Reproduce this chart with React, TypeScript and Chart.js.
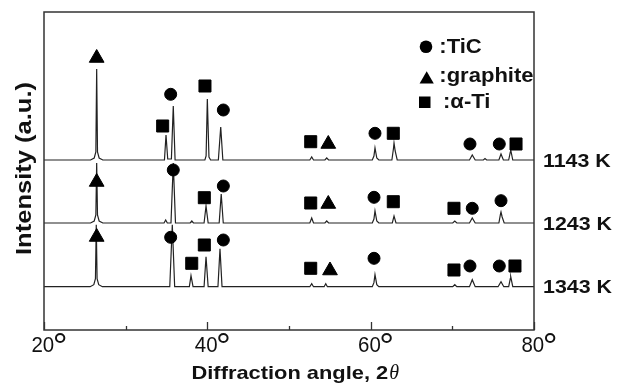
import React, { useEffect, useRef } from 'react';
import { Chart, registerables } from 'chart.js';

Chart.register(...registerables);

// ---------- data ----------
const xTicks = [20, 30, 40, 50, 60, 70, 80];
const xTickLabels = ['20', '', '40', '', '60', '', '80'];
const sampleLabels = ['1143 K', '1243 K', '1343 K'];
const traceOffsets = [170, 107, 43.3];
const legendLabels = [':TiC', ':graphite', ':\u03b1-Ti'];

// [2θ, intensity above the pattern's own baseline]
const trace1143: [number, number][] = [
  [20, 0], [25.7, 0], [26.15, 2], [26.35, 8], [26.45, 91], [26.55, 8], [26.75, 2], [27.2, 0],
  [34.75, 0], [34.94, 25], [35.15, 1], [35.6, 1], [35.83, 54], [36.05, 0],
  [39.7, 0], [39.85, 4], [40.0, 61], [40.2, 3], [40.4, 0],
  [41.35, 0], [41.64, 33], [41.9, 0],
  [52.55, 0], [52.78, 3], [53.0, 0],
  [54.4, 0], [54.62, 2], [54.85, 0],
  [60.2, 0], [60.4, 4], [60.53, 12], [60.75, 2], [61.0, 0],
  [62.6, 0], [62.8, 12], [62.86, 17], [63.0, 9], [63.25, 0],
  [72.1, 0], [72.44, 5], [72.8, 0],
  [73.8, 0], [74.0, 1.5], [74.2, 0],
  [75.7, 0], [75.96, 6], [76.25, 0],
  [76.9, 0], [77.1, 8], [77.15, 10], [77.4, 0],
  [80, 0],
];

const trace1243: [number, number][] = [
  [20, 0], [25.7, 0], [26.15, 2], [26.35, 8], [26.45, 60], [26.55, 8], [26.75, 2], [27.2, 0],
  [34.7, 0], [34.9, 3], [35.1, 0],
  [35.55, 0], [35.83, 60], [36.1, 0],
  [37.9, 0], [38.1, 2], [38.3, 0],
  [39.6, 0], [39.84, 17], [40.1, 0],
  [41.45, 0], [41.7, 29], [41.95, 0],
  [52.55, 0], [52.78, 5], [53.0, 0],
  [54.4, 0], [54.62, 2], [54.85, 0],
  [60.2, 0], [60.4, 4], [60.53, 12], [60.75, 2], [61.0, 0],
  [62.65, 0], [62.86, 7], [63.1, 0],
  [70.05, 0], [70.3, 2], [70.55, 0],
  [72.1, 0], [72.44, 5], [72.8, 0],
  [75.7, 0], [75.9, 9], [75.96, 11], [76.1, 6], [76.35, 0],
  [80, 0],
];

const trace1343: [number, number][] = [
  [20, 0], [25.65, 0], [26.1, 2], [26.3, 8], [26.4, 62], [26.5, 8], [26.7, 2], [27.15, 0],
  [35.4, 0], [35.71, 62], [36.0, 0],
  [37.8, 0], [38.0, 11], [38.25, 0],
  [39.6, 0], [39.84, 30], [40.1, 0],
  [41.3, 0], [41.55, 38], [41.8, 0],
  [52.55, 0], [52.78, 3], [53.0, 0],
  [54.3, 0], [54.5, 3], [54.7, 0],
  [60.2, 0], [60.4, 4], [60.53, 12], [60.75, 2], [61.0, 0],
  [70.05, 0], [70.3, 2], [70.55, 0],
  [72.1, 0], [72.44, 7], [72.8, 0],
  [75.6, 0], [75.96, 5], [76.3, 0],
  [76.9, 0], [77.1, 8], [77.15, 10], [77.4, 0],
  [80, 0],
];

const traces = [trace1143, trace1243, trace1343];

// phase markers (2θ, plotted intensity)
const ticX = [35.51, 41.96, 60.53, 72.16, 75.75, 35.83, 41.96, 60.41, 72.44, 75.96, 35.51, 41.96, 60.41, 72.16, 75.75];
const ticY = [235.7, 220, 196.7, 186, 186, 160, 144, 132.7, 121.7, 129.3, 92.7, 90, 71.7, 64, 64];
const graphiteX = [26.45, 54.81, 26.45, 54.81, 26.45, 55.02];
const graphiteY = [272, 186, 148, 126, 93, 59.5];
const alphaTiX = [34.53, 39.71, 52.66, 62.77, 77.8, 39.63, 52.66, 62.77, 70.2, 38.09, 39.63, 52.66, 70.2, 77.67];
const alphaTiY = [204, 244, 188.3, 196.7, 186, 132.3, 127, 128.3, 121.7, 66.7, 85, 61.7, 60, 64];

// ---------- helpers ----------
const SANS = '"Liberation Sans", Arial, sans-serif';
const INK = '#111';

function drawText(
  ctx: CanvasRenderingContext2D,
  s: string,
  x: number,
  y: number,
  font: string,
  align: 'left' | 'center' | 'right',
  sx: number
) {
  ctx.save();
  ctx.font = font;
  const w = ctx.measureText(s).width * sx;
  const x0 = align === 'center' ? x - w / 2 : align === 'right' ? x - w : x;
  ctx.translate(x0, y);
  ctx.scale(sx, 1);
  ctx.textAlign = 'left';
  ctx.textBaseline = 'alphabetic';
  ctx.fillStyle = INK;
  ctx.fillText(s, 0, 0);
  ctx.restore();
  return w;
}

const decorPlugin = {
  id: 'decor',
  afterDatasetsDraw(chart: any) {
    const ctx: CanvasRenderingContext2D = chart.ctx;
    const a = chart.chartArea;
    const xs = chart.scales.x;
    const ys = chart.scales.y;
    ctx.save();

    // frame
    ctx.strokeStyle = '#333';
    ctx.lineWidth = 1.5;
    ctx.strokeRect(a.left, a.top, a.right - a.left, a.bottom - a.top);

    // inward ticks on the bottom axis
    ctx.lineWidth = 1.3;
    xTicks.forEach((v, i) => {
      const px = Math.round(xs.getPixelForValue(v)) + 0.5;
      const len = xTickLabels[i] ? 8 : 4;
      ctx.beginPath();
      ctx.moveTo(px, a.bottom);
      ctx.lineTo(px, a.bottom - len);
      ctx.stroke();
    });

    // tick labels (number centred on the tick, degree ring hanging right)
    xTicks.forEach((v, i) => {
      const lab = xTickLabels[i];
      if (!lab) return;
      const px = xs.getPixelForValue(v) - 1.2;
      const w = drawText(ctx, lab, px, a.bottom + 21.5, `22px ${SANS}`, 'center', 0.93);
      drawText(ctx, '\u00b0', px + w / 2 - 1.5, a.bottom + 28.5, `37px ${SANS}`, 'left', 1);
    });

    // x title
    {
      const f1 = `bold 19px ${SANS}`;
      const f2 = 'italic 20px "Liberation Serif", serif';
      ctx.font = f1;
      const w1 = ctx.measureText('Diffraction angle, 2').width * 1.15;
      ctx.font = f2;
      const w2 = ctx.measureText('\u03b8').width;
      const x0 = 191.5;
      drawText(ctx, 'Diffraction angle, 2', x0, 378.5, f1, 'left', 1.15);
      drawText(ctx, '\u03b8', x0 + w1 + 1, 378.5, f2, 'left', 1);
      void w2;
    }

    // y title
    ctx.save();
    ctx.translate(31, 168.5);
    ctx.rotate(-Math.PI / 2);
    drawText(ctx, 'Intensity (a.u.)', 0, 0, `bold 22px ${SANS}`, 'center', 1.16);
    ctx.restore();

    // sample labels at each pattern's baseline
    sampleLabels.forEach((s, i) => {
      const py = ys.getPixelForValue(traceOffsets[i]);
      drawText(ctx, s, 543, py + 6.7, `bold 18.6px ${SANS}`, 'left', 1.15);
    });

    // legend
    ctx.fillStyle = '#000';
    ctx.beginPath();
    ctx.arc(426, 46.7, 6.3, 0, Math.PI * 2);
    ctx.fill();
    drawText(ctx, legendLabels[0], 439.3, 53.3, `bold 19.5px ${SANS}`, 'left', 1.13);

    ctx.fillStyle = '#000';
    ctx.beginPath();
    ctx.moveTo(426.7, 71.2);
    ctx.lineTo(433.8, 83.5);
    ctx.lineTo(419.6, 83.5);
    ctx.closePath();
    ctx.fill();
    drawText(ctx, legendLabels[1], 439.3, 81.7, `bold 19.5px ${SANS}`, 'left', 1.13);

    ctx.fillStyle = '#000';
    ctx.fillRect(419, 96.5, 11.5, 11.5);
    drawText(ctx, legendLabels[2], 443, 108.3, `bold 19.5px ${SANS}`, 'left', 1.13);

    ctx.restore();
  },
};

export default function App() {
  const ref = useRef<HTMLCanvasElement | null>(null);

  useEffect(() => {
    if (!ref.current) return;
    const toPts = (xsArr: number[], ysArr: number[]) => xsArr.map((x, i) => ({ x, y: ysArr[i] }));
    const markerBase = {
      showLine: false,
      backgroundColor: '#000',
      borderColor: '#000',
      borderWidth: 1,
    };
    const chart = new Chart(ref.current, {
      type: 'scatter',
      data: {
        datasets: [
          { ...markerBase, label: legendLabels[0], data: toPts(ticX, ticY), pointStyle: 'circle', pointRadius: 6 },
          { ...markerBase, label: legendLabels[1], data: toPts(graphiteX, graphiteY), pointStyle: 'triangle', pointRadius: 8.5 },
          { ...markerBase, label: legendLabels[2], data: toPts(alphaTiX, alphaTiY), pointStyle: 'rect', pointRadius: 8.5 },
          ...traces.map((t, i) => ({
            label: sampleLabels[i],
            data: t.map(([x, v]) => ({ x, y: v + traceOffsets[i] })),
            showLine: true,
            pointRadius: 0,
            borderColor: '#222',
            borderWidth: 1.2,
            tension: 0,
          })),
        ] as any,
      },
      options: {
        responsive: false,
        animation: false,
        layout: { padding: { left: 44, top: 12, right: 83, bottom: 54 } },
        scales: {
          x: { type: 'linear', min: 20, max: 80, display: false },
          y: { type: 'linear', min: 0, max: 318, display: false },
        },
        plugins: { legend: { display: false }, tooltip: { enabled: false } },
      },
      plugins: [decorPlugin],
    });
    return () => chart.destroy();
  }, []);

  return (
    <div style={{ position: 'absolute', left: 0, top: 0, width: 617, height: 384, background: '#fff' }}>
      <canvas ref={ref} width={617} height={384} style={{ display: 'block' }} />
    </div>
  );
}
